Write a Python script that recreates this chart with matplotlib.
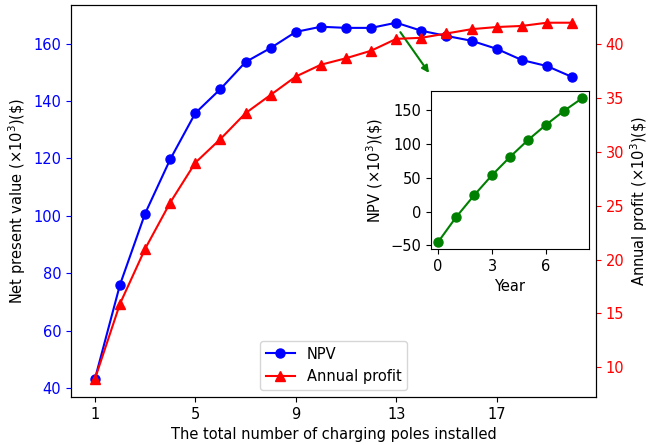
import matplotlib
matplotlib.use("Agg")
import matplotlib.pyplot as plt

plt.rcParams['font.size'] = 10.5

# main chart data
poles = list(range(1, 21))
npv = [43.1, 76.0, 100.8, 119.7, 135.8, 144.2, 153.6, 158.5, 164.1, 165.9,
       165.5, 165.5, 167.3, 164.5, 162.7, 161.0, 158.2, 154.3, 152.2, 148.4]
profit = [8.9, 15.9, 21.0, 25.3, 29.0, 31.2, 33.6, 35.3, 37.0, 38.1,
          38.7, 39.4, 40.5, 40.6, 41.0, 41.4, 41.6, 41.7, 42.0, 42.0]
xticks = [1, 5, 9, 13, 17]

# inset data
years = list(range(0, 9))
npv_years = [-45.1, -8.3, 24.0, 53.9, 80.9, 105.9, 128.4, 149.0, 167.6]

fig = plt.figure(figsize=(6.48, 4.45), dpi=100)
ax = fig.add_axes([0.1096, 0.108, 0.810, 0.881])

l1, = ax.plot(poles, npv, 'o-', color='blue', markersize=6.5, label='NPV')
ax.set_xticks(xticks)
ax.set_xlabel('The total number of charging poles installed')
ax.set_ylabel(r'Net present value ($\times10^3$)(\$)')
ax.tick_params(axis='y', colors='blue')
ax.yaxis.label.set_color('black')

ax2 = ax.twinx()
l2, = ax2.plot(poles, profit, '^-', color='red', markersize=6.5, label='Annual profit')
ax2.set_ylabel(r'Annual profit ($\times10^3$)(\$)', labelpad=2.5)
ax2.tick_params(axis='y', colors='red')
ax2.yaxis.label.set_color('black')

ax.legend(handles=[l1, l2], loc='lower center')

ax.annotate('', xy=(14.37, 149), xytext=(13.1, 164.8),
            arrowprops=dict(arrowstyle='-|>', color='green', lw=1.5))

ins = fig.add_axes([0.665, 0.440, 0.244, 0.355])
ins.plot(years, npv_years, 'o-', color='green', markersize=6.5)
ins.set_xticks([0, 3, 6])
ins.set_yticks([-50, 0, 50, 100, 150])
ins.set_xlabel('Year')
ins.set_ylabel(r'NPV ($\times10^3$)(\$)')

fig.savefig('out.png', dpi=100)
